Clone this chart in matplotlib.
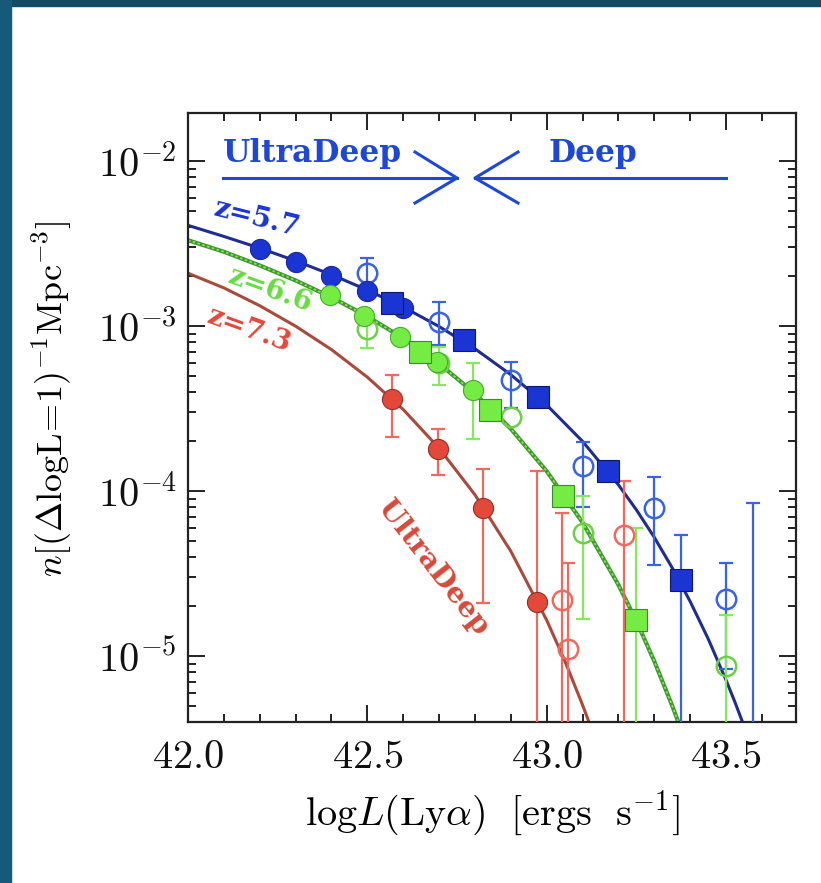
import numpy as np
import matplotlib
matplotlib.use('Agg')
import matplotlib.pyplot as plt
from matplotlib.patches import Rectangle
from matplotlib.ticker import LogLocator, MultipleLocator, NullFormatter

plt.rcParams['mathtext.fontset'] = 'cm'
plt.rcParams['font.family'] = 'serif'
plt.rcParams['font.serif'] = ['cmr10', 'DejaVu Serif']
plt.rcParams['axes.unicode_minus'] = False

# ---- data (x = log L, y = number density) ----
# z=5.7 UltraDeep (filled circles)
ud57_x = [42.20, 42.30, 42.40, 42.50, 42.60]
ud57_y = [2.93e-3, 2.44e-3, 2.01e-3, 1.63e-3, 1.28e-3]
# z=5.7 Deep (filled squares)
dp57_x = [42.57, 42.77, 42.975, 43.17, 43.375]
dp57_y = [1.38e-3, 8.2e-4, 3.7e-4, 1.32e-4, 2.89e-5]
dp57_lo = [None, None, None, None, 1e-8]
dp57_hi = [None, None, None, None, 5.41e-5]
# z=5.7 open circles with error bounds (None = no bar)
op57_x = [42.50, 42.70, 42.90, 43.10, 43.30, 43.50, 43.575]
op57_y = [2.1e-3, 1.06e-3, 4.71e-4, 1.42e-4, 7.89e-5, 2.21e-5, 1e-6]
op57_lo = [1.55e-3, 7.7e-4, 3.18e-4, 8.0e-5, 3.56e-5, 8.3e-6, 1e-8]
op57_hi = [2.58e-3, 1.40e-3, 6.05e-4, 1.98e-4, 1.22e-4, 3.66e-5, 8.45e-5]

# z=6.6
ud66_x = [42.395, 42.49, 42.59, 42.695, 42.795]
ud66_y = [1.54e-3, 1.15e-3, 8.6e-4, 6.05e-4, 4.1e-4]
ud66_lo = [None, None, None, None, 2.07e-4]
ud66_hi = [None, None, None, None, 5.97e-4]
dp66_x = [42.647, 42.842, 43.045, 43.249]
dp66_y = [6.95e-4, 3.1e-4, 9.3e-5, 1.65e-5]
dp66_lo = [None, None, None, 1e-8]
dp66_hi = [None, None, None, 5.97e-5]
op66_x = [42.50, 42.70, 42.90, 43.10, 43.50]
op66_y = [9.6e-4, 5.97e-4, 2.81e-4, 5.56e-5, 8.7e-6]
op66_lo = [7.36e-4, 4.39e-4, None, 1.67e-5, 1e-8]
op66_hi = [1.2e-3, 7.46e-4, None, 9.3e-5, 1.77e-5]

# z=7.3 UltraDeep
ud73_x = [42.569, 42.697, 42.822, 42.973]
ud73_y = [3.61e-4, 1.80e-4, 7.88e-5, 2.12e-5]
ud73_lo = [2.12e-4, 1.25e-4, 2.09e-5, 1e-8]
ud73_hi = [5.05e-4, 2.38e-4, 1.36e-4, 1.32e-4]
op73_x = [43.043, 43.06, 43.215]
op73_y = [2.18e-5, 1.10e-5, 5.41e-5]
op73_lo = [1e-8, 1e-8, 1e-8]
op73_hi = [7.36e-5, 3.66e-5, 1.15e-4]

# best-fit curves (log10 of y)
fit57_x = [42.0, 42.1, 42.2, 42.3, 42.4, 42.5, 42.6, 42.7, 42.8, 42.9, 43.0, 43.1,
           43.2, 43.25, 43.3, 43.35, 43.4, 43.45, 43.5, 43.525, 43.55]
fit57_logy = [-2.390, -2.457, -2.528, -2.605, -2.689, -2.782, -2.885, -3.003, -3.138,
              -3.295, -3.479, -3.699, -3.963, -4.114, -4.281, -4.466, -4.670, -4.895,
              -5.146, -5.281, -5.424]
fit66_x = [42.0, 42.1, 42.2, 42.3, 42.4, 42.5, 42.6, 42.7, 42.8, 42.9, 43.0, 43.1,
           43.2, 43.25, 43.3, 43.35, 43.37]
fit66_logy = [-2.480, -2.550, -2.633, -2.724, -2.826, -2.942, -3.074, -3.228, -3.409,
              -3.623, -3.880, -4.191, -4.569, -4.788, -5.032, -5.302, -5.418]
fit73_x = [42.0, 42.1, 42.2, 42.3, 42.4, 42.5, 42.6, 42.7, 42.8, 42.9, 43.0, 43.05,
           43.1, 43.12]
fit73_logy = [-2.680, -2.769, -2.877, -3.001, -3.143, -3.310, -3.506, -3.741, -4.023,
              -4.365, -4.783, -5.027, -5.297, -5.413]

blue, blue_dark, blue_err = '#1b35d4', '#1f2d8f', '#3a63e0'
green, green_dark, green_err = '#74ec44', '#3f9a2c', '#86e85c'
red, red_dark, red_err = '#e4483a', '#a84a3c', '#ee6a5e'
label_blue = '#1f47d6'

fig = plt.figure(figsize=(8.21, 8.83), dpi=100)
fig.patches.append(Rectangle((0, 1 - 6 / 883), 1, 6 / 883, transform=fig.transFigure,
                             color='#144a66', zorder=-5))
fig.patches.append(Rectangle((0, 0), 11 / 821, 1, transform=fig.transFigure,
                             color='#17597a', zorder=-5))

ax = fig.add_axes([188 / 821, 1 - 722 / 883, 608 / 821, 609 / 883])
ax.set_xlim(42.0, 43.695)
ax.set_ylim(10 ** -5.4, 10 ** -1.709)
ax.set_yscale('log')


def err(x, y, lo, hi, color, z=3):
    keep = [i for i in range(len(x)) if lo[i] is not None]
    xs = np.array([x[i] for i in keep])
    ys = np.array([y[i] for i in keep])
    los = np.array([lo[i] for i in keep])
    his = np.array([hi[i] for i in keep])
    ax.errorbar(xs, ys, yerr=[ys - los, his - ys], fmt='none', ecolor=color,
                elinewidth=1.6, capsize=5, capthick=1.6, zorder=z)


# fitted curves
ax.plot(fit57_x, 10 ** np.array(fit57_logy), color=blue_dark, lw=2.2, zorder=2)
ax.plot(fit66_x, 10 ** np.array(fit66_logy), color=green_dark, lw=3.0, zorder=2)
ax.plot(fit66_x, 10 ** np.array(fit66_logy), color='#8fe06a', lw=1.2, ls=(0, (1.5, 1.5)), zorder=2)
ax.plot(fit73_x, 10 ** np.array(fit73_logy), color=red_dark, lw=2.2, zorder=2)

# error bars
err(op57_x, op57_y, op57_lo, op57_hi, blue_err)
err(dp57_x, dp57_y, dp57_lo, dp57_hi, blue_err)
err(op66_x, op66_y, op66_lo, op66_hi, green_err)
err(ud66_x, ud66_y, ud66_lo, ud66_hi, green_err)
err(dp66_x, dp66_y, dp66_lo, dp66_hi, green_err)
err(ud73_x, ud73_y, ud73_lo, ud73_hi, red_err)
err(op73_x, op73_y, op73_lo, op73_hi, red_err)

# open circles
ax.plot(op57_x, op57_y, 'o', ms=14, mfc='none', mec=blue_err, mew=1.8, zorder=4)
ax.plot(op66_x, op66_y, 'o', ms=14, mfc='none', mec='#6ccf45', mew=1.8, zorder=4)
ax.plot(op73_x, op73_y, 'o', ms=14, mfc='none', mec=red_err, mew=1.8, zorder=4)

# filled symbols
ax.plot(ud57_x, ud57_y, 'o', ms=14.5, mfc=blue, mec='#1a2a90', mew=0.8, zorder=5)
ax.plot(dp57_x, dp57_y, 's', ms=16, mfc=blue, mec='#10186a', mew=0.8, zorder=5)
ax.plot(ud66_x, ud66_y, 'o', ms=14.5, mfc=green, mec='#4aa832', mew=0.8, zorder=5)
ax.plot(dp66_x, dp66_y, 's', ms=16, mfc=green, mec='#3d8a28', mew=0.8, zorder=5)
ax.plot(ud73_x, ud73_y, 'o', ms=14.5, mfc=red, mec='#8e3328', mew=0.8, zorder=5)

# axes formatting
ax.set_xticks([42.0, 42.5, 43.0, 43.5])
ax.set_xticklabels([r'$42.0$', r'$42.5$', r'$43.0$', r'$43.5$'])
ax.xaxis.set_minor_locator(MultipleLocator(0.1))
ax.set_yticks([1e-5, 1e-4, 1e-3, 1e-2])
ax.set_yticklabels([r'$10^{-5}$', r'$10^{-4}$', r'$10^{-3}$', r'$10^{-2}$'])
ax.yaxis.set_minor_locator(LogLocator(base=10, subs=np.arange(2, 10)))
ax.yaxis.set_minor_formatter(NullFormatter())
ax.tick_params(which='both', direction='in', top=True, right=True, width=1.4,
               colors='#222222', labelcolor='#111111')
ax.tick_params(which='major', length=12, labelsize=29)
ax.tick_params(which='minor', length=6)
ax.tick_params(axis='x', pad=13)
ax.tick_params(axis='y', pad=8)
for s in ax.spines.values():
    s.set_linewidth(1.6)
    s.set_color('#222222')

ax.set_xlabel(r'$\mathrm{log}L(\mathrm{Ly}\alpha)\ \ [\mathrm{ergs\ \ s}^{-1}]$', fontsize=29)
ax.set_ylabel(r'$n[(\Delta\mathrm{logL}\!=\!1)^{-1}\mathrm{Mpc}^{-3}]$', fontsize=26)
ax.xaxis.set_label_coords(0.5, -0.108)
ax.yaxis.set_label_coords(-0.187, 0.53)

# annotations
slab = 'DejaVu Serif'
ax.text(42.098, 10 ** -2.006, 'UltraDeep', color=label_blue, fontsize=22.5,
        fontweight='bold', family=slab, ha='left', va='baseline')
ax.text(43.004, 10 ** -2.006, 'Deep', color=label_blue, fontsize=22.5,
        fontweight='bold', family=slab, ha='left', va='baseline')


def fx(px):
    return (px - 188) / 608


def fy(py):
    return (722 - py) / 609


ax.plot([fx(223), fx(457)], [fy(178), fy(178)], color=label_blue, lw=2.2, transform=ax.transAxes)
ax.plot([fx(415), fx(457), fx(415)], [fy(152), fy(178), fy(203)], color=label_blue, lw=2.2,
        transform=ax.transAxes)
ax.plot([fx(475), fx(726)], [fy(178), fy(178)], color=label_blue, lw=2.2, transform=ax.transAxes)
ax.plot([fx(518), fx(475), fx(518)], [fy(152), fy(178), fy(203)], color=label_blue, lw=2.2,
        transform=ax.transAxes)

ax.text(42.19, 10 ** -2.345, 'z=5.7', color=blue, fontsize=20, fontweight='bold',
        family=slab, rotation=-14, ha='center', va='center', rotation_mode='anchor')
ax.text(42.228, 10 ** -2.782, 'z=6.6', color='#66dd40', fontsize=20, fontweight='bold',
        family=slab, rotation=-20, ha='center', va='center', rotation_mode='anchor')
ax.text(42.17, 10 ** -3.024, 'z=7.3', color=red, fontsize=20, fontweight='bold',
        family=slab, rotation=-20, ha='center', va='center', rotation_mode='anchor')
ax.text(42.683, 10 ** -4.467, 'UltraDeep', color='#d9483a', fontsize=20.5, fontweight='bold',
        family=slab, rotation=-52, ha='center', va='center', rotation_mode='anchor')

fig.savefig('out.png', dpi=100, facecolor='white')
